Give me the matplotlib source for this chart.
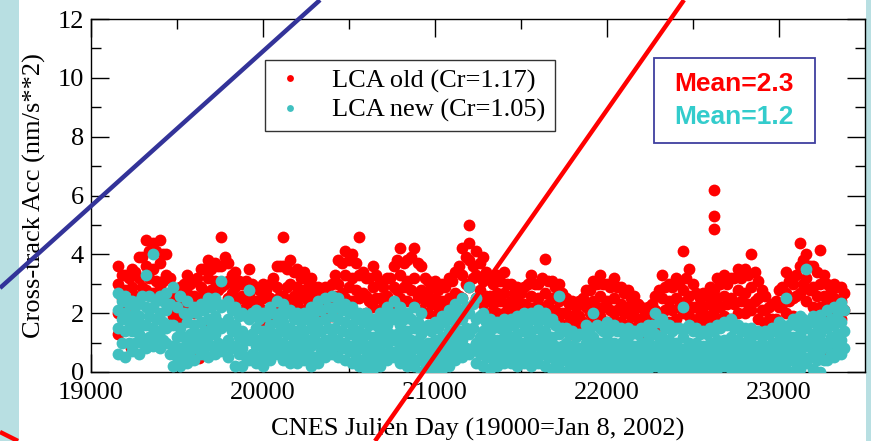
import numpy as np
import matplotlib
matplotlib.use("Agg")
import matplotlib.pyplot as plt
from matplotlib.lines import Line2D
from matplotlib.patches import Rectangle

# ---------------- data ----------------
days = np.arange(19160, 23361, 40)      # sample grid A
days_b = np.arange(19180, 23381, 40)    # sample grid B (between A samples)

red_top = [3.6, 3.3, 3.5, 3.9, 4.5,  4.4, 4.5, 4.0, 2.8, 2.9,  3.3, 3.1, 3.5, 3.8, 3.7,
           4.6, 3.7, 3.4, 3.0, 3.5,  2.9, 3.0, 3.0, 3.6, 4.6,  3.8, 3.5, 3.4, 3.2, 2.9,
           2.9, 3.0, 3.8, 4.1, 4.0,  4.6, 3.2, 3.6, 3.1, 3.2,  3.6, 4.2, 3.8, 4.2, 3.6,
           3.1, 3.1, 3.0, 3.2, 3.4,  4.2, 5.0, 4.1, 3.9, 3.2,  3.3, 3.4, 3.0, 2.9, 2.9,
           3.3, 3.0, 3.85, 3.1, 3.0, 2.5, 2.4, 2.4, 2.8, 3.1,  3.3, 3.0, 3.2, 2.9, 2.8,
           2.6, 2.2, 2.2, 2.6, 3.3,  3.0, 3.2, 4.1, 3.5, 2.7,  2.7, 2.9, 3.2, 3.3, 3.2,
           3.5, 3.5, 4.0, 3.1, 2.6,  2.3, 2.8, 3.4, 3.0, 4.4,  4.0, 3.6, 4.15, 3.0, 3.0, 2.9]
red_mid = [3.0, 2.8, 2.9, 3.2, 3.6,  3.5, 3.7, 3.3, 2.3, 2.4,  2.7, 2.6, 2.9, 3.2, 3.1,
           3.6, 3.1, 2.9, 2.6, 2.6,  2.4, 2.5, 2.5, 2.9, 3.6,  3.0, 2.9, 2.8, 2.6, 2.4,
           2.3, 2.4, 3.0, 3.3, 3.2,  3.3, 2.6, 2.9, 2.5, 2.6,  2.9, 3.3, 3.1, 3.2, 2.8,
           2.6, 2.5, 2.4, 2.5, 2.7,  3.3, 3.8, 3.3, 3.1, 2.6,  2.7, 2.7, 2.4, 2.4, 2.3,
           2.6, 2.5, 2.7, 2.5, 2.4,  2.0, 1.9, 1.9, 2.2, 2.4,  2.6, 2.4, 2.5, 2.3, 2.2,
           2.1, 1.8, 1.8, 2.1, 2.5,  2.4, 2.5, 2.8, 2.6, 2.2,  2.2, 2.3, 2.5, 2.6, 2.5,
           2.8, 2.7, 2.9, 2.5, 2.1,  1.8, 2.2, 2.7, 2.5, 3.6,  3.2, 2.9, 3.0, 2.4, 2.5, 2.4]
red_low = [2.0, 2.2, 2.3, 2.5, 2.8,  2.7, 2.9, 2.6, 1.9, 1.8,  2.1, 2.0, 2.2, 2.4, 2.4,
           2.9, 2.5, 2.3, 2.1, 2.0,  1.9, 1.8, 1.9, 2.2, 2.6,  2.4, 2.3, 2.1, 2.0, 1.9,
           1.8, 1.9, 2.3, 2.5, 2.4,  2.5, 2.0, 2.2, 1.9, 2.0,  2.2, 2.5, 2.4, 2.3, 2.1,
           2.0, 1.9, 1.8, 1.9, 2.1,  2.5, 2.9, 2.5, 2.3, 2.0,  2.0, 2.0, 1.8, 1.8, 1.8,
           1.9, 1.8, 2.0, 1.8, 1.7,  1.5, 1.3, 1.3, 1.6, 1.8,  1.9, 1.7, 1.8, 1.7, 1.6,
           1.5, 1.3, 1.3, 1.5, 1.8,  1.7, 1.8, 2.0, 1.9, 1.7,  1.6, 1.7, 1.8, 1.9, 1.8,
           2.0, 2.0, 2.1, 1.8, 1.6,  1.4, 1.6, 2.0, 1.9, 2.7,  2.4, 2.2, 2.2, 1.8, 1.9, 1.8]
red_b_hi = [3.3, 3.2, 3.4, 3.9, 4.1,  4.1, 4.0, 3.2, 2.6, 3.0,  3.0, 3.2, 3.5, 3.5, 3.6,
            3.9, 3.3, 3.1, 3.1, 3.0,  2.8, 2.8, 3.2, 3.6, 3.5,  3.4, 3.2, 3.1, 2.9, 2.7,
            2.7, 3.3, 3.7, 3.8, 3.7,  3.4, 3.2, 3.3, 2.9, 3.2,  3.8, 3.7, 3.9, 3.7, 3.2,
            2.9, 2.8, 2.9, 3.1, 3.6,  3.9, 3.6, 3.7, 3.4, 3.0,  3.1, 3.0, 2.7, 2.7, 3.0,
            3.0, 3.2, 3.1, 2.9, 2.7,  2.3, 2.2, 2.5, 2.8, 3.0,  3.0, 2.9, 2.9, 2.7, 2.5,
            2.3, 2.0, 2.3, 2.8, 2.9,  2.9, 3.0, 3.2, 3.0, 2.5,  2.6, 2.8, 3.0, 3.0, 3.2,
            3.2, 3.3, 3.4, 2.8, 2.2,  2.4, 2.9, 3.1, 3.3, 3.8,  3.6, 3.4, 3.3, 2.8, 2.9, 2.7]
red_b_lo = [2.5, 2.4, 2.6, 2.9, 3.2,  3.1, 3.1, 2.5, 2.1, 2.2,  2.4, 2.5, 2.7, 2.8, 2.8,
            3.0, 2.7, 2.5, 2.4, 2.2,  2.2, 2.1, 2.3, 2.6, 2.9,  2.6, 2.6, 2.4, 2.3, 2.1,
            2.1, 2.6, 2.7, 2.9, 2.8,  2.7, 2.4, 2.5, 2.2, 2.4,  2.8, 2.9, 2.8, 2.6, 2.4,
            2.3, 2.2, 2.1, 2.3, 2.6,  3.0, 3.2, 2.8, 2.6, 2.3,  2.4, 2.3, 2.1, 2.1, 2.2,
            2.2, 2.2, 2.3, 2.1, 2.0,  1.7, 1.6, 1.7, 2.0, 2.2,  2.2, 2.1, 2.1, 2.0, 1.9,
            1.8, 1.6, 1.7, 2.0, 2.1,  2.1, 2.2, 2.4, 2.2, 1.9,  1.9, 2.1, 2.2, 2.3, 2.3,
            2.4, 2.3, 2.4, 2.1, 1.8,  1.8, 2.3, 2.4, 2.6, 3.0,  2.8, 2.6, 2.6, 2.2, 2.2, 2.1]
red_extra_days = [22620, 22620, 22620, 21200, 19680, 20000, 19160, 19237, 19629,
                  20400, 21845, 22214, 22570, 23285]
red_extra_vals = [6.2, 5.3, 4.85, 4.4, 1.6, 1.5, 1.3, 0.8, 0.48,
                  0.75, 0.64, 0.3, 0.3, 0.7]

cyan_top = [2.7, 2.6, 2.4, 2.4, 3.3,  4.0, 2.6, 2.7, 2.9, 2.6,  2.4, 2.2, 2.3, 2.5, 2.5,
            3.1, 2.4, 2.2, 2.0, 2.8,  2.1, 2.0, 2.2, 2.4, 2.3,  2.1, 2.0, 2.0, 2.2, 2.4,
            2.5, 2.6, 2.5, 2.3, 2.2,  2.0, 2.0, 1.8, 2.0, 2.2,  2.4, 2.2, 2.0, 2.2, 2.0,
            1.6, 1.7, 1.9, 2.1, 2.3,  2.5, 2.9, 2.5, 2.0, 1.8,  1.7, 1.8, 1.8, 1.9, 2.0,
            2.0, 2.1, 2.0, 1.8, 2.6,  1.5, 1.4, 1.3, 1.6, 2.0,  1.5, 1.7, 1.6, 1.5, 1.5,
            1.4, 1.5, 1.6, 2.0, 1.8,  1.6, 1.5, 2.2, 1.6, 1.5,  1.4, 1.5, 1.6, 1.7, 1.8,
            1.6, 1.5, 1.5, 1.4, 1.4,  1.5, 1.7, 2.5, 1.8, 1.9,  3.5, 1.9, 1.95, 2.1, 2.2, 2.35]
cyan_m1 = [2.1, 2.0, 1.9, 1.9, 2.2,  2.2, 2.0, 2.1, 1.6, 1.5,  1.7, 1.6, 1.7, 1.8, 1.9,
           2.2, 1.8, 1.6, 1.4, 1.8,  1.5, 1.4, 1.6, 1.7, 1.7,  1.5, 1.4, 1.4, 1.5, 1.7,
           1.8, 1.9, 1.8, 1.7, 1.6,  1.4, 1.3, 1.2, 1.4, 1.6,  1.8, 1.6, 1.4, 1.5, 1.3,
           1.0, 1.1, 1.2, 1.4, 1.7,  1.8, 2.0, 1.8, 1.4, 1.2,  1.1, 1.2, 1.2, 1.3, 1.4,
           1.4, 1.5, 1.4, 1.2, 1.3,  1.0, 0.9, 0.8, 1.0, 1.2,  1.0, 1.1, 1.0, 1.0, 1.0,
           0.9, 1.0, 1.1, 1.3, 1.2,  1.1, 1.0, 1.2, 1.0, 1.0,  0.9, 1.0, 1.1, 1.1, 1.2,
           1.1, 1.0, 1.0, 0.9, 0.9,  1.0, 1.1, 1.3, 1.2, 1.3,  1.5, 1.3, 1.3, 1.5, 1.6, 1.7]
cyan_m2 = [1.5, 1.4, 1.4, 1.3, 1.6,  1.5, 1.4, 1.5, 0.9, 0.8,  1.0, 1.0, 1.1, 1.2, 1.3,
           1.5, 1.1, 0.9, 0.8, 1.1,  0.9, 0.8, 1.0, 1.1, 1.0,  0.9, 0.8, 0.8, 0.9, 1.0,
           1.1, 1.2, 1.1, 1.0, 0.9,  0.8, 0.7, 0.6, 0.7, 1.0,  1.1, 0.9, 0.8, 0.8, 0.7,
           0.5, 0.6, 0.6, 0.8, 1.0,  1.1, 1.3, 1.0, 0.8, 0.6,  0.6, 0.7, 0.7, 0.7, 0.8,
           0.8, 0.9, 0.8, 0.6, 0.7,  0.5, 0.5, 0.4, 0.5, 0.6,  0.5, 0.6, 0.5, 0.5, 0.5,
           0.4, 0.5, 0.6, 0.7, 0.7,  0.6, 0.5, 0.6, 0.5, 0.5,  0.4, 0.5, 0.6, 0.6, 0.7,
           0.6, 0.5, 0.5, 0.4, 0.5,  0.5, 0.6, 0.7, 0.6, 0.7,  0.9, 0.7, 0.7, 0.9, 1.0, 1.1]
cyan_bot = [0.6, 0.5, 0.7, 0.6, 0.8,  0.9, 0.8, 1.0, 0.2, 0.2,  0.3, 0.4, 0.6, 0.5, 0.6,
            0.7, 0.5, 0.2, 0.2, 0.4,  0.3, 0.2, 0.4, 0.6, 0.4,  0.3, 0.3, 0.4, 0.2, 0.3,
            0.5, 0.6, 0.5, 0.4, 0.3,  0.2, 0.1, 0.1, 0.2, 0.4,  0.5, 0.3, 0.2, 0.2, 0.0,
            0.0, 0.1, 0.1, 0.2, 0.4,  0.5, 0.6, 0.3, 0.2, 0.1,  0.2, 0.3, 0.3, 0.2, 0.3,
            0.2, 0.3, 0.2, 0.1, 0.1,  0.0, 0.1, 0.1, 0.1, 0.1,  0.0, 0.1, 0.1, 0.0, 0.1,
            0.0, 0.1, 0.1, 0.2, 0.1,  0.1, 0.1, 0.1, 0.1, 0.1,  0.0, 0.1, 0.1, 0.2, 0.1,
            0.1, 0.1, 0.1, 0.0, 0.1,  0.1, 0.1, 0.1, 0.0, 0.1,  0.3, 0.1, 0.0, 0.4, 0.5, 0.6]
cyan_b_hi = [2.4, 2.3, 2.2, 2.6, 2.6,  2.4, 2.4, 2.3, 2.2, 2.0,  2.0, 2.0, 2.1, 2.2, 2.3,
             2.3, 2.1, 1.9, 1.9, 2.0,  1.8, 1.9, 2.0, 2.0, 2.0,  1.8, 1.7, 1.8, 2.0, 2.1,
             2.2, 2.2, 2.1, 2.0, 1.8,  1.7, 1.6, 1.6, 1.8, 2.0,  2.0, 1.8, 1.8, 1.7, 1.5,
             1.4, 1.5, 1.7, 1.9, 2.1,  2.2, 2.3, 1.9, 1.7, 1.5,  1.5, 1.5, 1.6, 1.7, 1.7,
             1.8, 1.8, 1.7, 1.6, 1.5,  1.3, 1.2, 1.3, 1.5, 1.6,  1.4, 1.4, 1.4, 1.3, 1.3,
             1.3, 1.4, 1.6, 1.7, 1.5,  1.4, 1.5, 1.5, 1.4, 1.3,  1.3, 1.4, 1.5, 1.6, 1.5,
             1.4, 1.3, 1.3, 1.2, 1.3,  1.4, 1.6, 1.6, 1.6, 1.8,  1.7, 1.6, 1.7, 1.8, 1.9, 2.1]
cyan_b_mid = [1.8, 1.7, 1.6, 1.6, 1.9,  1.8, 1.7, 1.6, 1.2, 1.2,  1.3, 1.3, 1.4, 1.5, 1.7,
              1.6, 1.4, 1.2, 1.1, 1.3,  1.1, 1.1, 1.3, 1.4, 1.3,  1.1, 1.1, 1.1, 1.2, 1.4,
              1.5, 1.5, 1.4, 1.3, 1.2,  1.0, 0.9, 0.9, 1.1, 1.3,  1.3, 1.1, 1.1, 1.1, 0.9,
              0.8, 0.9, 1.0, 1.2, 1.4,  1.5, 1.5, 1.2, 1.0, 0.9,  0.9, 1.0, 1.0, 1.0, 1.1,
              1.1, 1.2, 1.1, 0.9, 0.9,  0.7, 0.7, 0.7, 0.8, 0.9,  0.8, 0.8, 0.8, 0.7, 0.7,
              0.7, 0.8, 0.9, 1.0, 0.9,  0.8, 0.8, 0.8, 0.8, 0.7,  0.7, 0.8, 0.9, 0.9, 0.9,
              0.8, 0.8, 0.7, 0.7, 0.7,  0.8, 0.9, 1.0, 0.9, 1.1,  1.1, 1.0, 1.0, 1.2, 1.3, 1.4]
cyan_b_lo = [1.0, 1.0, 1.0, 1.0, 1.2,  1.2, 1.1, 0.6, 0.5, 0.5,  0.7, 0.8, 0.8, 0.9, 1.0,
             0.9, 0.8, 0.6, 0.5, 0.6,  0.5, 0.5, 0.7, 0.8, 0.6,  0.6, 0.5, 0.6, 0.5, 0.7,
             0.8, 0.9, 0.8, 0.7, 0.5,  0.4, 0.4, 0.3, 0.5, 0.7,  0.7, 0.5, 0.5, 0.4, 0.3,
             0.3, 0.3, 0.4, 0.5, 0.7,  0.8, 0.8, 0.6, 0.5, 0.4,  0.4, 0.5, 0.5, 0.5, 0.5,
             0.5, 0.6, 0.5, 0.4, 0.4,  0.3, 0.3, 0.3, 0.3, 0.3,  0.3, 0.3, 0.3, 0.3, 0.2,
             0.2, 0.3, 0.4, 0.4, 0.4,  0.3, 0.3, 0.3, 0.3, 0.2,  0.2, 0.3, 0.4, 0.4, 0.4,
             0.3, 0.3, 0.3, 0.2, 0.3,  0.3, 0.4, 0.4, 0.3, 0.5,  0.5, 0.4, 0.4, 0.6, 0.7, 0.8]

x_ticks = [19000, 20000, 21000, 22000, 23000]
y_ticks = [0, 2, 4, 6, 8, 10, 12]
legend_labels = ["LCA old (Cr=1.17)", "LCA new (Cr=1.05)"]
mean_texts = ["Mean=2.3", "Mean=1.2"]
x_label = "CNES Julien Day (19000=Jan 8, 2002)"
y_label = "Cross-track Acc (nm/s**2)"

# ---------------- style ----------------
RED = "#ff0000"
CYAN = "#40c0c0"
MEAN_CYAN = "#33cccc"
SLIDE = "#b8dfe2"
BLUE = "#333399"
W, H = 871, 441

plt.rcParams["font.family"] = ["Liberation Serif", "DejaVu Serif"]
fig = plt.figure(figsize=(W / 100, H / 100), dpi=100, facecolor=SLIDE)

# white picture area on slide background
fig.add_artist(Rectangle((19 / W, 0), (866 - 19) / W, 1, transform=fig.transFigure,
                         facecolor="white", edgecolor="none", zorder=-10))

ax = fig.add_axes([90.7 / W, 1 - 372 / H, (865 - 90.7) / W, (372 - 19) / H])
ax.set_facecolor("white")

ms = 8.5
red_x = np.concatenate([days, days, days, days_b, days_b, red_extra_days])
red_y = np.concatenate([red_top, red_mid, red_low, red_b_hi, red_b_lo, red_extra_vals])
cyan_x = np.concatenate([days, days, days, days, days_b, days_b, days_b])
cyan_y = np.concatenate([cyan_top, cyan_m1, cyan_m2, cyan_bot,
                         cyan_b_hi, cyan_b_mid, cyan_b_lo])
ax.plot(red_x, red_y, "o", color=RED, ms=ms, mew=0, label=legend_labels[0], zorder=3)
ax.plot(cyan_x, cyan_y, "o", color=CYAN, ms=ms, mew=0, label=legend_labels[1], zorder=4)

ax.set_xlim(19000, 23500)
ax.set_ylim(0, 12)
ax.set_xticks(x_ticks)
ax.set_xticks(np.arange(19500, 23500, 1000), minor=True)
ax.set_yticks(y_ticks)
ax.set_yticks(np.arange(1, 12, 2), minor=True)
ax.tick_params(which="both", direction="in", top=True, right=True, labelsize=19,
               width=1.0, colors="black")
ax.tick_params(which="major", length=13)
ax.tick_params(axis="x", which="major", pad=7)
ax.tick_params(axis="y", which="major", pad=5)
ax.tick_params(which="minor", length=7)
for s in ax.spines.values():
    s.set_linewidth(1.0)
ax.set_xlabel(x_label, fontsize=19, labelpad=10)
ax.set_ylabel(y_label, fontsize=19, labelpad=8)

leg = ax.legend(loc="upper left", bbox_to_anchor=(0.225, 0.884), borderaxespad=0,
                fontsize=19, frameon=True, fancybox=False, markerscale=0.58,
                handlelength=1.2, handletextpad=1.0, labelspacing=0.2, borderpad=0.35)
leg.get_frame().set_edgecolor("black")
leg.get_frame().set_linewidth(1.0)

ax.add_patch(Rectangle((0.7275, 0.6487), 0.9354 - 0.7275, 0.8895 - 0.6487,
                       transform=ax.transAxes, facecolor="white", edgecolor="#3f3f9f",
                       linewidth=1.3, zorder=6))
ax.text(0.831, 0.816, mean_texts[0], transform=ax.transAxes, ha="center", va="center",
        color=RED, fontsize=19, fontweight="bold", family=["Liberation Sans", "DejaVu Sans"],
        zorder=7)
ax.text(0.831, 0.722, mean_texts[1], transform=ax.transAxes, ha="center", va="center",
        color=MEAN_CYAN, fontsize=19, fontweight="bold", family=["Liberation Sans", "DejaVu Sans"],
        zorder=7)

# decorative slide strokes
def px(xp, yp):
    return xp / W, 1 - yp / H

for (p0, p1, c) in [((0, 288), (320, 0), BLUE), ((375, 441), (684, 0), RED),
                    ((0, 432), (18, 441), RED)]:
    a, b = px(*p0), px(*p1)
    fig.add_artist(Line2D([a[0], b[0]], [a[1], b[1]], transform=fig.transFigure,
                          color=c, linewidth=3.2, zorder=20, solid_capstyle="butt"))

fig.savefig("out.png", dpi=100, facecolor=SLIDE)
